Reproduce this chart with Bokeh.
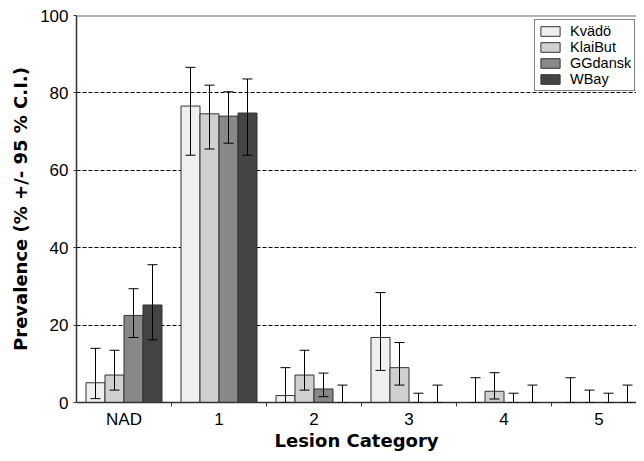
from bokeh.plotting import figure
from bokeh.models import Range1d, FixedTicker, ColumnDataSource, Whisker, TeeHead, Span, Legend, LegendItem
from bokeh.embed import file_html
from bokeh.resources import INLINE

categories = ["NAD", "1", "2", "3", "4", "5"]
series = ["Kvädö", "KlaiBut", "GGdansk", "WBay"]
colors = ["#efefef", "#d0d0d0", "#888888", "#444444"]

kvado = [5.1, 76.6, 1.8, 16.8, 0, 0]
kvado_lo = [1.0, 63.9, 0, 8.3, 0, 0]
kvado_hi = [14.0, 86.6, 9.0, 28.4, 6.4, 6.4]

klaibut = [7.1, 74.6, 7.1, 9.0, 2.9, 0]
klaibut_lo = [3.2, 65.5, 3.2, 4.5, 0.9, 0]
klaibut_hi = [13.5, 82.0, 13.5, 15.5, 7.7, 3.2]

ggdansk = [22.5, 74.0, 3.5, 0, 0, 0]
ggdansk_lo = [16.8, 67.0, 1.5, 0, 0, 0]
ggdansk_hi = [29.4, 80.3, 7.6, 2.4, 2.4, 2.4]

wbay = [25.2, 74.8, 0, 0, 0, 0]
wbay_lo = [16.2, 63.9, 0, 0, 0, 0]
wbay_hi = [35.6, 83.6, 4.5, 4.5, 4.5, 4.5]

values = [kvado, klaibut, ggdansk, wbay]
lows = [kvado_lo, klaibut_lo, ggdansk_lo, wbay_lo]
highs = [kvado_hi, klaibut_hi, ggdansk_hi, wbay_hi]

FONT = "Liberation Sans"
BOLD_FONT = "DejaVu Sans"

W, H = 636, 453
LEFT, TOP, BOTTOM = 76, 15, 50

p = figure(width=W, height=H, output_backend="svg", toolbar_location=None,
           x_range=Range1d(0, (W - LEFT) / 95), y_range=Range1d(0, 100),
           min_border_left=LEFT, min_border_right=0, min_border_top=TOP,
           min_border_bottom=BOTTOM)
p.outline_line_color = None
p.background_fill_color = "white"

centers = [i + 0.5 for i in range(len(categories))]
offsets = [-0.3, -0.1, 0.1, 0.3]
renderers = []
for s, col, vals, lo, hi, off in zip(series, colors, values, lows, highs, offsets):
    src = ColumnDataSource(dict(x=[c + off for c in centers], top=vals, lo=lo, hi=hi))
    r = p.vbar(x="x", top="top", width=0.2, source=src, fill_color=col,
               line_color="#333333", line_width=1)
    renderers.append((s, r))
    w = Whisker(base="x", upper="hi", lower="lo", source=src, dimension="height",
                line_color="black", line_width=1, level="overlay",
                upper_head=TeeHead(size=10, line_color="black", line_width=1),
                lower_head=TeeHead(size=10, line_color="black", line_width=1))
    p.add_layout(w)

p.add_layout(Span(location=100, dimension="width", line_color="#666666", line_width=2))

# axes
p.xaxis.ticker = FixedTicker(ticks=centers, minor_ticks=[1, 2, 3, 4, 5])
p.xaxis.major_label_overrides = {c: lab for c, lab in zip(centers, categories)}
p.xaxis.major_tick_line_color = None
p.xaxis.major_tick_out = 4
p.xaxis.major_tick_in = 0
p.xaxis.minor_tick_out = 4
p.xaxis.minor_tick_in = 0
p.xaxis.minor_tick_line_color = "#333333"
p.xaxis.axis_line_color = "#333333"
p.xaxis.axis_line_width = 1.5
p.xaxis.major_label_text_font = FONT
p.xaxis.major_label_text_font_size = "17px"
p.xaxis.major_label_text_color = "black"
p.xaxis.major_label_standoff = 3
p.xaxis.axis_label = "Lesion Category"
p.xaxis.axis_label_text_font = BOLD_FONT
p.xaxis.axis_label_text_font_size = "18px"
p.xaxis.axis_label_text_font_style = "bold"
p.xaxis.axis_label_text_color = "black"
p.xaxis.axis_label_standoff = -2

p.yaxis.ticker = FixedTicker(ticks=[0, 20, 40, 60, 80, 100])
p.yaxis.minor_tick_line_color = None
p.yaxis.major_tick_out = 3
p.yaxis.major_tick_in = 0
p.yaxis.major_tick_line_color = "#333333"
p.yaxis.axis_line_color = "#333333"
p.yaxis.axis_line_width = 1.5
p.yaxis.major_label_text_font = FONT
p.yaxis.major_label_text_font_size = "17px"
p.yaxis.major_label_text_color = "black"
p.yaxis.major_label_standoff = 5
p.yaxis.axis_label = "Prevalence (% +/- 95 % C.I.)"
p.yaxis.axis_label_text_font = BOLD_FONT
p.yaxis.axis_label_text_font_size = "18px"
p.yaxis.axis_label_text_font_style = "bold"
p.yaxis.axis_label_text_color = "black"
p.yaxis.axis_label_standoff = 6

p.xgrid.grid_line_color = None
p.ygrid.ticker = FixedTicker(ticks=[20, 40, 60, 80])
p.ygrid.grid_line_color = "black"
p.ygrid.grid_line_dash = "4 2"
p.ygrid.grid_line_width = 1

legend = Legend(items=[LegendItem(label=s, renderers=[r]) for s, r in renderers],
                location=(458, 311))
legend.margin = 0
legend.padding = 3
legend.spacing = 0
legend.glyph_width = 24
legend.glyph_height = 12
legend.label_height = 15
legend.label_standoff = 8
legend.label_text_font = FONT
legend.label_text_font_size = "14.5px"
legend.label_text_color = "black"
legend.border_line_color = "black"
legend.border_line_width = 1
legend.background_fill_color = "white"
legend.background_fill_alpha = 1
p.add_layout(legend)

open("out.html", "w").write(file_html(p, INLINE))
